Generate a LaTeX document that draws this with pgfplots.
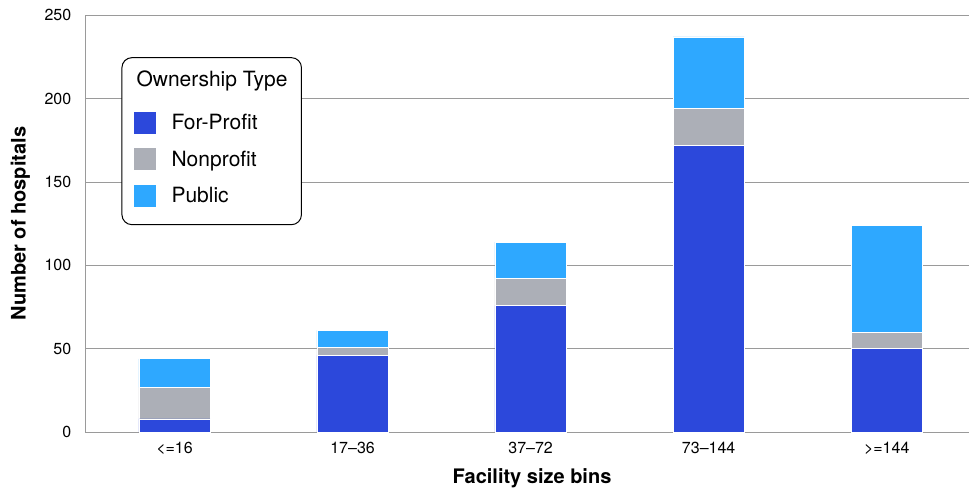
\documentclass[border={7.5pt 1pt 0pt 6pt}]{standalone}
\usepackage{fontspec}
\setmainfont{TeX Gyre Heros}
\usepackage{pgfplots}
\pgfplotsset{compat=1.18}

\definecolor{forprofit}{HTML}{2C48DB}
\definecolor{nonprofit}{HTML}{ACAFB7}
\definecolor{public}{HTML}{2EA8FF}
\definecolor{gridgray}{HTML}{9A9A9A}

\begin{document}
\begin{tikzpicture}
\begin{axis}[
  scale only axis,
  width=883pt, height=417pt,
  ybar stacked,
  bar width=0.4,
  xmin=-0.5, xmax=4.46,
  ymin=0, ymax=250,
  xtick={0,1,2,3,4},
  xticklabels={{<=16},{17--36},{37--72},{73--144},{>=144}},
  ytick={0,50,100,150,200,250},
  /pgf/number format/assume math mode=true,
  tick label style={font=\fontsize{16}{19}\selectfont},
  ymajorgrids,
  grid style={gridgray, line width=0.8pt},
  axis x line*=bottom,
  axis y line*=left,
  axis line style={gridgray, line width=0.8pt},
  x axis line style={-},
  y axis line style={-},
  major tick length=0pt,
  xticklabel style={yshift=-6pt},
  yticklabel style={xshift=-10.7pt},
  xlabel={\textbf{Facility size bins}},
  ylabel={\textbf{Number of hospitals}},
  label style={font=\fontsize{20}{24}\selectfont},
  xlabel style={at={(axis description cs:0.5,0)}, anchor=center,
    xshift=5pt, yshift=-46pt},
  ylabel style={at={(axis description cs:0,0.5)}, anchor=center,
    yshift=65pt},
  legend cell align=left,
  legend style={
    at={(axis cs:-0.298,224.8)}, anchor=north west,
    draw=black, line width=1pt, rounded corners=10pt,
    font=\fontsize{21}{24}\selectfont,
    inner xsep=12pt, inner ysep=11pt,
    row sep=15pt,
  },
  every axis plot/.append style={draw=white, line width=0.6pt},
]
\addlegendimage{empty legend}
\addlegendentry{\hspace{-21pt}\raisebox{7pt}{Ownership Type}}

\addplot[fill=forprofit,
  legend image code/.code={\fill[forprofit, sharp corners] (0pt,-10.5pt) rectangle (21pt,10.5pt);}]
  coordinates {(0,8) (1,46) (2,76) (3,172) (4,50)};
\addlegendentry{\hspace{14pt}For-Profit}

\addplot[fill=nonprofit,
  legend image code/.code={\fill[nonprofit, sharp corners] (0pt,-10.5pt) rectangle (21pt,10.5pt);}]
  coordinates {(0,19) (1,5) (2,16) (3,22) (4,10)};
\addlegendentry{\hspace{14pt}Nonprofit}

% the last swatch keeps some extra room below it, inside the frame
\addplot[fill=public,
  legend image code/.code={\fill[public, sharp corners] (0pt,-10.5pt) rectangle (21pt,10.5pt);
    \path (0pt,-17.5pt);}]
  coordinates {(0,17) (1,10) (2,22) (3,43) (4,64)};
\addlegendentry{\hspace{14pt}Public}
\end{axis}
\end{tikzpicture}
\end{document}
